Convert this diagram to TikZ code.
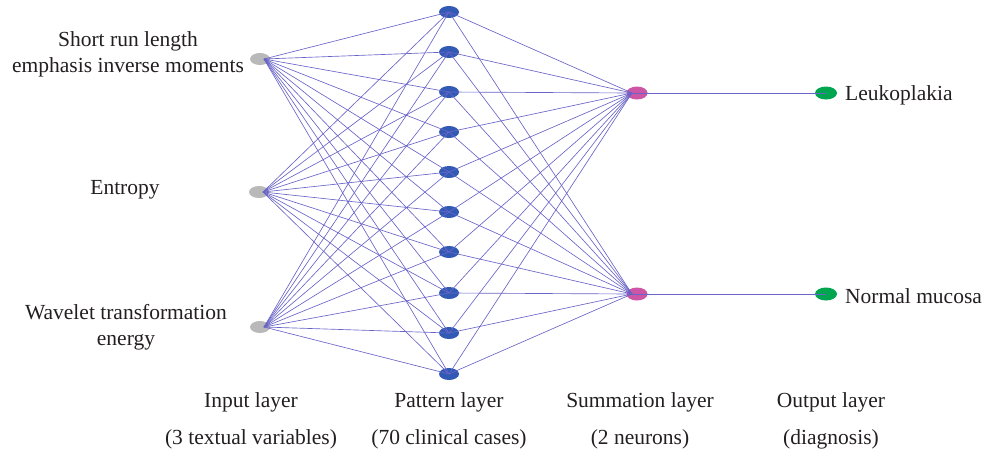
\documentclass[tikz,border=0pt]{standalone}
\usepackage{fontspec}
\setmainfont{Liberation Serif}
\usetikzlibrary{shapes.geometric}
\definecolor{txt}{RGB}{35,31,32}
\definecolor{wire}{RGB}{105,100,200}
\definecolor{inpc}{RGB}{185,185,185}
\definecolor{patc}{RGB}{50,90,180}
\definecolor{sumc}{RGB}{205,85,165}
\definecolor{outc}{RGB}{0,165,80}
\tikzset{
  neuron/.style={ellipse, inner sep=0pt, minimum width=20pt, minimum height=12pt, draw=none},
  inp/.style={neuron, fill=inpc},
  pat/.style={neuron, fill=patc},
  summ/.style={neuron, fill=sumc, minimum width=21pt, minimum height=13pt},
  outn/.style={neuron, fill=outc, minimum width=22pt, minimum height=13pt},
  wireline/.style={draw=wire, line width=0.65pt},
  lbl/.style={text=txt, font=\fontsize{21.5}{26}\selectfont, align=center, inner sep=0pt},
}
\begin{document}
\begin{tikzpicture}[x=1pt,y=-1pt]
\useasboundingbox (0,0) rectangle (985,451);
% input
\node[inp] (i1) at (260,59) {};
\node[inp] (i2) at (259,192) {};
\node[inp] (i3) at (260,327) {};
% pattern
\foreach \k/\yy in {1/12,2/52,3/92,4/132,5/172,6/212,7/252,8/293,9/333,10/374}
  \node[pat] (p\k) at (449,\yy) {};
% summation
\node[summ] (s1) at (637,93) {};
\node[summ] (s2) at (637,294) {};
% output
\node[outn] (o1) at (826,93) {};
\node[outn] (o2) at (826,294) {};
% wires
\foreach \i in {1,2,3}
  \foreach \k in {1,...,10}
    \draw[wireline] ([xshift=4pt]i\i.center) -- (p\k.center);
\foreach \s in {1,2}
  \foreach \k in {1,...,10}
    \draw[wireline] (p\k.center) -- ([xshift=-5pt]s\s.center);
\draw[wireline] ([xshift=-5pt]s1.center) -- (o1.center);
\draw[wireline] ([xshift=-5pt]s2.center) -- (o2.center);
% labels
\node[lbl] (l1) at (128,54) {Short run length\\emphasis inverse moments};
\node[lbl] (l2) at (125,190) {Entropy};
\node[lbl] (l3) at (126,327) {Wavelet transformation\\energy};
\node[lbl, anchor=west] (r1) at (845,95) {Leukoplakia};
\node[lbl, anchor=west] (r2) at (845,296) {Normal mucosa};
\node[lbl] (b1) at (251,402) {Input layer};
\node[lbl] (b2) at (251,439) {(3 textual variables)};
\node[lbl] (b3) at (449,402) {Pattern layer};
\node[lbl] (b4) at (449,439) {(70 clinical cases)};
\node[lbl] (b5) at (640,402) {Summation layer};
\node[lbl] (b6) at (640,439) {(2 neurons)};
\node[lbl] (b7) at (831,402) {Output layer};
\node[lbl] (b8) at (831,439) {(diagnosis)};
\end{tikzpicture}
\end{document}
